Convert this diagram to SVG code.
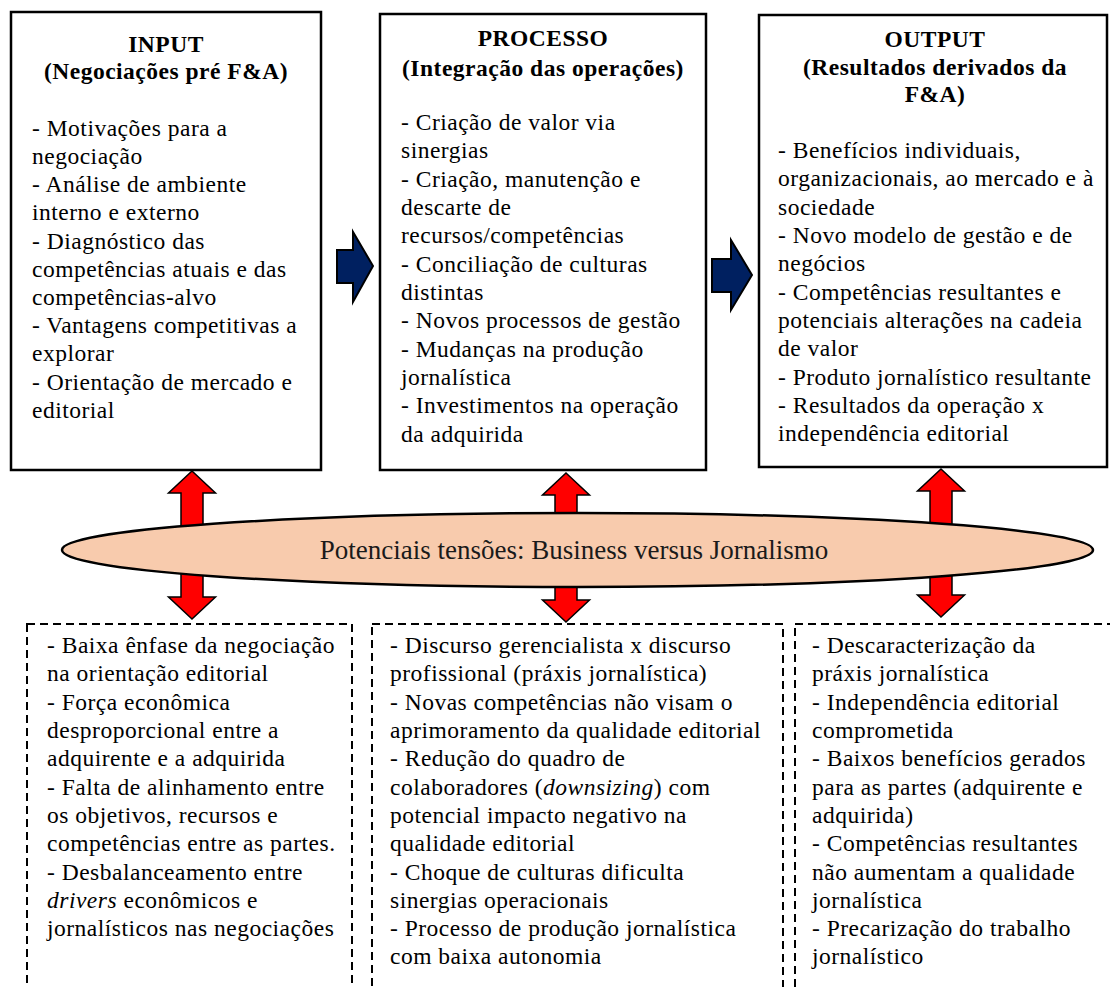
<svg xmlns="http://www.w3.org/2000/svg" width="1110" height="987" viewBox="0 0 1110 987">
<style>
.box{fill:#fff;stroke:#000;stroke-width:2.5}
.dbox{fill:none;stroke:#000;stroke-width:2;stroke-dasharray:8 5}
.t{font-family:"Liberation Serif","Times New Roman",serif;font-size:23.5px;letter-spacing:0.5px;fill:#000}
.h{font-weight:bold;text-anchor:middle}
.red{fill:#ff0000;stroke:#000;stroke-width:1.5;stroke-linejoin:miter}
.blue{fill:#002060;stroke:#000;stroke-width:2}
.ell{fill:#f8cbad;stroke:#000;stroke-width:2.5}
.et{font-family:"Liberation Serif","Times New Roman",serif;font-size:27px;text-anchor:middle;fill:#1a1a1a}
</style>
<rect width="1110" height="987" fill="#fff"/>

<g id="input">
<rect class="box" x="11" y="12" width="310" height="458"/>
<text class="t h"><tspan x="166" y="52">INPUT</tspan><tspan x="166" y="79">(Negociações pré F&amp;A)</tspan></text>
<text class="t"><tspan x="32" y="136">- Motivações para a</tspan><tspan x="32" y="164">negociação</tspan><tspan x="32" y="192">- Análise de ambiente</tspan><tspan x="32" y="220">interno e externo</tspan><tspan x="32" y="249">- Diagnóstico das</tspan><tspan x="32" y="277">competências atuais e das</tspan><tspan x="32" y="305">competências-alvo</tspan><tspan x="32" y="333">- Vantagens competitivas a</tspan><tspan x="32" y="361">explorar</tspan><tspan x="32" y="390">- Orientação de mercado e</tspan><tspan x="32" y="418">editorial</tspan></text>
</g>

<g id="processo">
<rect class="box" x="380" y="14" width="326" height="456"/>
<text class="t h"><tspan x="543" y="46">PROCESSO</tspan><tspan x="543" y="76">(Integração das operações)</tspan></text>
<text class="t"><tspan x="401" y="130">- Criação de valor via</tspan><tspan x="401" y="158">sinergias</tspan><tspan x="401" y="187">- Criação, manutenção e</tspan><tspan x="401" y="215">descarte de</tspan><tspan x="401" y="243">recursos/competências</tspan><tspan x="401" y="272">- Conciliação de culturas</tspan><tspan x="401" y="300">distintas</tspan><tspan x="401" y="328">- Novos processos de gestão</tspan><tspan x="401" y="357">- Mudanças na produção</tspan><tspan x="401" y="385">jornalística</tspan><tspan x="401" y="413">- Investimentos na operação</tspan><tspan x="401" y="442">da adquirida</tspan></text>
</g>

<g id="output">
<rect class="box" x="759" y="15" width="348" height="452"/>
<text class="t h"><tspan x="935" y="47">OUTPUT</tspan><tspan x="935" y="75">(Resultados derivados da</tspan><tspan x="935" y="102">F&amp;A)</tspan></text>
<text class="t"><tspan x="778" y="158">- Benefícios individuais,</tspan><tspan x="778" y="186">organizacionais, ao mercado e à</tspan><tspan x="778" y="215">sociedade</tspan><tspan x="778" y="243">- Novo modelo de gestão e de</tspan><tspan x="778" y="271">negócios</tspan><tspan x="778" y="300">- Competências resultantes e</tspan><tspan x="778" y="328">potenciais alterações na cadeia</tspan><tspan x="778" y="356">de valor</tspan><tspan x="778" y="385">- Produto jornalístico resultante</tspan><tspan x="778" y="413">- Resultados da operação x</tspan><tspan x="778" y="441">independência editorial</tspan></text>
</g>

<g id="connectors">
<path class="blue" d="M337,250 L353,250 L353,232 L373,266 L353,302 L353,283 L337,283 Z"/>
<path class="blue" d="M712,259 L731,259 L731,240 L752,275 L731,310 L731,292 L712,292 Z"/>
<path class="red" d="M192,471 L215.5,493 L203,493 L203,597 L215.5,597 L192,619 L168.5,597 L181,597 L181,493 L168.5,493 Z"/>
<path class="red" d="M566,473 L589.5,495 L577,495 L577,600 L589.5,600 L566,622 L542.5,600 L555,600 L555,495 L542.5,495 Z"/>
<path class="red" d="M941,469 L964.5,491 L952,491 L952,595 L964.5,595 L941,617 L917.5,595 L930,595 L930,491 L917.5,491 Z"/>
</g>

<g id="tensoes">
<ellipse class="ell" cx="577.5" cy="550" rx="515.5" ry="37"/>
<text class="et" x="574" y="559">Potenciais tensões: Business versus Jornalismo</text>
</g>

<g id="tensao-input">
<rect class="dbox" x="27" y="624" width="325" height="420"/>
<text class="t"><tspan x="47" y="653">- Baixa ênfase da negociação</tspan><tspan x="47" y="681">na orientação editorial</tspan><tspan x="47" y="710">- Força econômica</tspan><tspan x="47" y="738">desproporcional entre a</tspan><tspan x="47" y="766">adquirente e a adquirida</tspan><tspan x="47" y="795">- Falta de alinhamento entre</tspan><tspan x="47" y="823">os objetivos, recursos e</tspan><tspan x="47" y="851">competências entre as partes.</tspan><tspan x="47" y="880">- Desbalanceamento entre</tspan><tspan x="47" y="908" font-style="italic">drivers</tspan><tspan> econômicos e</tspan><tspan x="47" y="936">jornalísticos nas negociações</tspan></text>
</g>

<g id="tensao-processo">
<rect class="dbox" x="372" y="624" width="411" height="420"/>
<text class="t"><tspan x="390" y="653">- Discurso gerencialista x discurso</tspan><tspan x="390" y="681">profissional (práxis jornalística)</tspan><tspan x="390" y="710">- Novas competências não visam o</tspan><tspan x="390" y="738">aprimoramento da qualidade editorial</tspan><tspan x="390" y="766">- Redução do quadro de</tspan><tspan x="390" y="795">colaboradores (</tspan><tspan font-style="italic">downsizing</tspan><tspan>) com</tspan><tspan x="390" y="823">potencial impacto negativo na</tspan><tspan x="390" y="851">qualidade editorial</tspan><tspan x="390" y="880">- Choque de culturas dificulta</tspan><tspan x="390" y="908">sinergias operacionais</tspan><tspan x="390" y="936">- Processo de produção jornalística</tspan><tspan x="390" y="964">com baixa autonomia</tspan></text>
</g>

<g id="tensao-output">
<rect class="dbox" x="795" y="624" width="340" height="420"/>
<text class="t"><tspan x="812" y="653">- Descaracterização da</tspan><tspan x="812" y="681">práxis jornalística</tspan><tspan x="812" y="710">- Independência editorial</tspan><tspan x="812" y="738">comprometida</tspan><tspan x="812" y="766">- Baixos benefícios gerados</tspan><tspan x="812" y="795">para as partes (adquirente e</tspan><tspan x="812" y="823">adquirida)</tspan><tspan x="812" y="851">- Competências resultantes</tspan><tspan x="812" y="880">não aumentam a qualidade</tspan><tspan x="812" y="908">jornalística</tspan><tspan x="812" y="936">- Precarização do trabalho</tspan><tspan x="812" y="964">jornalístico</tspan></text>
</g>
</svg>
